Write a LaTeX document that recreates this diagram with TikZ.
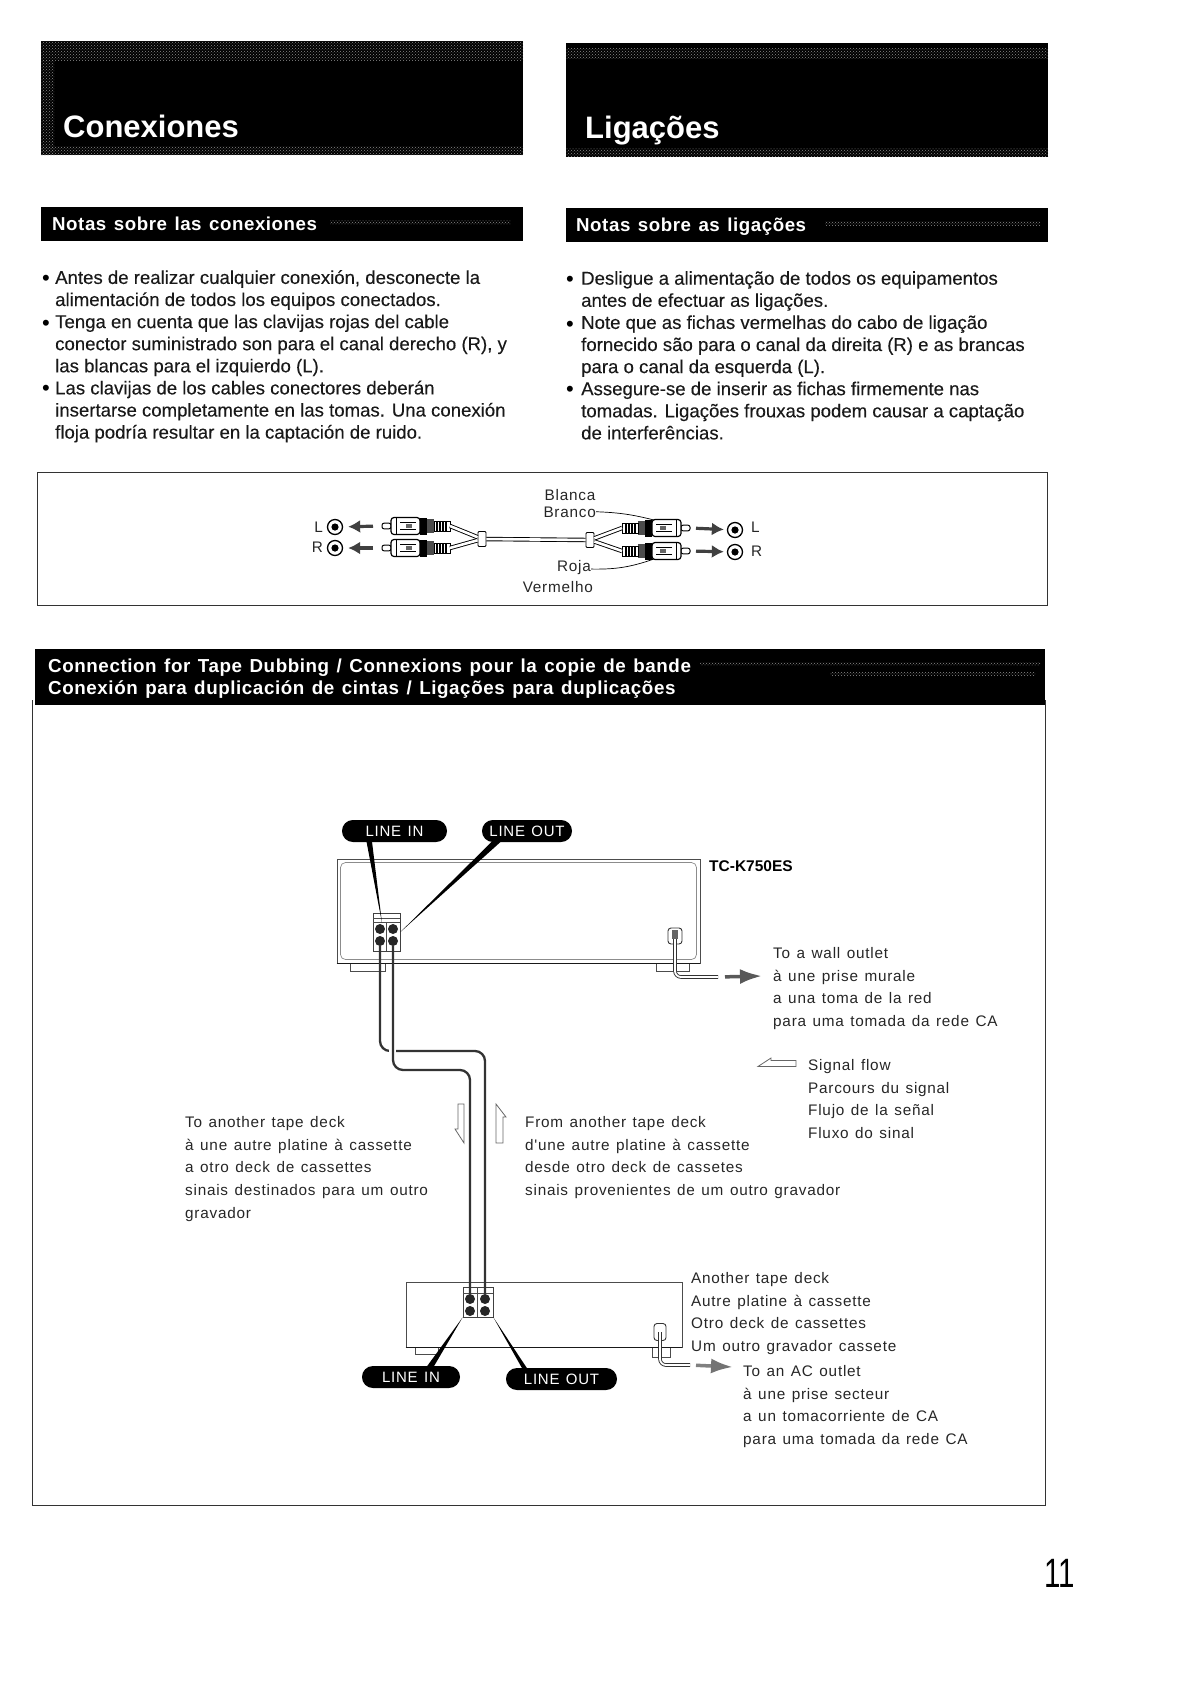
\documentclass[tikz,border=0pt]{standalone}
\usepackage{fontspec}
\setmainfont{Liberation Sans}
\newfontfamily\labelfont[LetterSpace=5,WordSpace=1.3]{Liberation Sans}
\newfontfamily\barfont[LetterSpace=3,WordSpace=1.3]{Liberation Sans}
\newfontfamily\notefont[FakeBold=0.2]{Liberation Sans}
\usetikzlibrary{arrows.meta,patterns}

\tikzset{
  rcaplug/.pic={
    \draw[fill=white, line width=1, rounded corners=2] (0,-2.8) -- (9,-2.8) -- (9,2.8) -- (0,2.8) -- cycle;
    \draw[fill=white, line width=1.2, rounded corners=3] (9,-8.5) -- (38,-8.5) -- (38,8.5) -- (9,8.5) -- cycle;
    \draw[line width=.9] (14,-8.5) -- (14,8.5) (18,-3.5) -- (34,-3.5) (18,3.5) -- (34,3.5);
    \fill[black!60] (24,-2) rectangle (30,2);
    \fill[black] (38,-8.5) rectangle (45,8.5);
    \fill[black!70] (45,-7) rectangle (52,7);
    \draw[fill=white, line width=.9] (52,-5) rectangle (68,5);
    \draw[line width=1.3] (55,-5) -- (55,5) (58,-5) -- (58,5) (61,-5) -- (61,5) (64,-5) -- (64,5);
    \coordinate (-tip) at (0,0);
    \coordinate (-tail) at (68,0);
    \coordinate (-top) at (36,-8);
    \coordinate (-low) at (36,8);
  }
}

\begin{document}
\begin{tikzpicture}[x=1pt, y=-1pt,
    titlebar/.style={rectangle, fill=black, inner sep=0pt, minimum width=482pt, minimum height=114pt},
    subbar/.style={rectangle, fill=black, inner sep=0pt, minimum width=482pt, minimum height=34pt},
    noise/.style={pattern=crosshatch dots, pattern color=black!45},
    titletext/.style={anchor=base west, inner sep=0pt, text=white, font=\bfseries\fontsize{31}{31}\selectfont},
    subtext/.style={anchor=base west, inner sep=0pt, text=white, font=\barfont\bfseries\fontsize{18.7}{22}\selectfont},
    dubtext/.style={anchor=base west, inner sep=0pt, text=white, font=\barfont\bfseries\fontsize{18.8}{22}\selectfont},
    notes/.style={anchor=north west, inner sep=0pt, align=left, text=black!90, font=\notefont\fontsize{18.6}{22.1}\selectfont},
    bullet/.style={inner sep=0pt, font=\fontsize{22}{22}\selectfont},
    lbl/.style={anchor=north west, inner sep=0pt, align=left, text=black!85, font=\labelfont\fontsize{15.3}{22.7}\selectfont},
    jack/.style={circle, draw, fill=white, line width=1.3pt, minimum size=15pt, inner sep=0pt,
      path picture={\fill[black] (path picture bounding box.center) circle (3.6);}},
    socket/.style={circle, fill=black!85, minimum size=10pt, inner sep=0pt},
    collar/.style={rectangle, draw, fill=white, rounded corners=1pt, line width=.9pt, minimum width=8pt, minimum height=15pt, inner sep=0pt},
    pill/.style={rectangle, fill=black, rounded corners=10.9pt, minimum height=22pt, inner sep=0pt, text=white, font=\labelfont\fontsize{15}{15}\selectfont},
    foot/.style={rectangle, draw=black!70, fill=white, line width=.8pt, inner sep=0pt},
    panel/.style={rectangle, draw=black!75, fill=white, line width=.8pt, inner sep=0pt},
    acplug/.style={rectangle, draw=black!80, fill=white, rounded corners=3pt, line width=.9pt, inner sep=0pt},
    pluginner/.style={rectangle, fill=black!60, inner sep=0pt, minimum width=6pt, minimum height=9pt},
    plugwire/.style={draw=black, line width=.9pt, double=white, double distance=2.6pt},
    rcawire/.style={draw=black!80, line width=2.3pt, rounded corners=10pt, line cap=round},
    cordwire/.style={draw=black!80, line width=.9pt, double=white, double distance=1.8pt, rounded corners=6pt},
    callout/.style={draw=black, line width=.7pt},
    inarrow/.style={draw=black!75, line width=3.2pt, -{Latex[length=12pt, width=13pt, black!75]}},
    acarrow/.style={draw=black!65, line width=3.5pt, -{Latex[length=22pt, width=15pt, black!65]}},
    flowline/.style={draw=black!60, line width=.8pt, fill=white}]

    \useasboundingbox (0,0) rectangle (1192,1682);

    % Titoli
    \node[titlebar] (conBar) at (282,98) {};
    \node[titlebar] (ligBar) at (807,99.5) {};
    \fill[noise] (41,41) rectangle (523,60);
    \fill[noise] (41,60) rectangle (54,155);
    \fill[noise] (41,146) rectangle (523,155);
    \fill[noise] (566,48) rectangle (1048,58);
    \fill[noise] (566,148) rectangle (1048,156);
    \node[titletext] (conTitle) at (63,137) {Conexiones};
    \node[titletext] (ligTitle) at (585,138) {Ligações};

    \node[subbar] (conSub) at (282,224) {};
    \node[subbar] (ligSub) at (807,225) {};
    \fill[noise] (330,220) rectangle (510,224);
    \fill[noise] (825,221) rectangle (1040,225);
    \node[subtext] (conSubText) at (52,230) {Notas sobre las conexiones};
    \node[subtext] (ligSubText) at (576,231) {Notas sobre as ligações};

    % Testo delle note
    \node[notes] (conNotes) at (55,270) {Antes de realizar cualquier conexión, desconecte la\\alimentación de todos los equipos conectados.\\Tenga en cuenta que las clavijas rojas del cable\\conector suministrado son para el canal derecho (R), y\\las blancas para el izquierdo (L).\\Las clavijas de los cables conectores deberán\\insertarse completamente en las tomas. Una conexión\\floja podría resultar en la captación de ruido.};
    \node[notes] (ligNotes) at (581,271) {Desligue a alimentação de todos os equipamentos\\antes de efectuar as ligações.\\Note que as fichas vermelhas do cabo de ligação\\fornecido são para o canal da direita (R) e as brancas\\para o canal da esquerda (L).\\Assegure-se de inserir as fichas firmemente nas\\tomadas. Ligações frouxas podem causar a captação\\de interferências.};
    \node[bullet] (conB1) at (46,280) {•};
    \node[bullet] (conB2) at (46,325) {•};
    \node[bullet] (conB3) at (46,390) {•};
    \node[bullet] (ligB1) at (570,281) {•};
    \node[bullet] (ligB2) at (570,326) {•};
    \node[bullet] (ligB3) at (570,391) {•};

    % Riquadro del cavo
    \draw[draw=black!80, line width=.9pt] (37,472) rectangle (1047,605);
    \node[jack] (jackL) at (335,527) {};
    \node[jack] (jackR) at (335,548) {};
    \node[jack] (jackLo) at (735,530) {};
    \node[jack] (jackRo) at (735,552) {};
    \pic (plugL) at (382,526) {rcaplug};
    \pic (plugR) at (382,548) {rcaplug};
    \pic[xscale=-1] (plugLo) at (690,528) {rcaplug};
    \pic[xscale=-1] (plugRo) at (690,551) {rcaplug};
    \node[collar] (yLeft) at (482,539) {};
    \node[collar] (yRight) at (590,540) {};
    \draw[plugwire] (yLeft) -- (yRight);
    \draw[plugwire] (plugL-tail) -- (yLeft);
    \draw[plugwire] (plugR-tail) -- (yLeft);
    \draw[plugwire] (plugLo-tail) -- (yRight);
    \draw[plugwire] (plugRo-tail) -- (yRight);
    \draw[inarrow, shorten <=9pt, shorten >=5pt] (plugL-tip) -- (jackL);
    \draw[inarrow, shorten <=9pt, shorten >=5pt] (plugR-tip) -- (jackR);
    \draw[inarrow, shorten <=6pt, shorten >=3pt] (plugLo-tip) -- (jackLo);
    \draw[inarrow, shorten <=6pt, shorten >=3pt] (plugRo-tip) -- (jackRo);
    \node[lbl, anchor=east] (chL) at (323,527) {L};
    \node[lbl, anchor=east] (chR) at (323,547) {R};
    \node[lbl, anchor=west] (chLo) at (751,527) {L};
    \node[lbl, anchor=west] (chRo) at (751,551) {R};
    \node[lbl, anchor=center] (blanca) at (570,495) {Blanca};
    \node[lbl, anchor=east] (branco) at (596,512) {Branco};
    \node[lbl, anchor=east] (roja) at (591,568) {Roja};
    \node[lbl, anchor=east] (vermelho) at (593,587) {Vermelho};
    \draw[callout] (branco) to[bend left=6] (plugLo-top);
    \draw[callout] (roja) to[bend right=10] (plugRo-low);

    % Sezione duplicazione
    \draw[draw=black!80, line width=.9pt] (32,700) -- (32,1505) -- (1045,1505) -- (1045,700);
    \node[rectangle, fill=black, inner sep=0pt, minimum width=1010pt, minimum height=56pt] (dubBar) at (540,676.5) {};
    \fill[noise] (700,662) rectangle (1040,665);
    \fill[noise] (830,672) rectangle (1035,675);
    \node[dubtext] (dubLine1) at (48,672) {Connection for Tape Dubbing / Connexions pour la copie de bande};
    \node[dubtext] (dubLine2) at (48,694) {Conexión para duplicación de cintas / Ligações para duplicações};

    % Deck superiore
    \node[foot, minimum width=35pt, minimum height=12pt] (footA1) at (367.5,965) {};
    \node[foot, minimum width=33pt, minimum height=12pt] (footA2) at (672.5,965) {};
    \node[rectangle, draw=black!70, fill=white, line width=.9pt, minimum width=363pt, minimum height=104pt, inner sep=0pt] (deckA) at (518.5,911) {};
    \draw[draw=black!90, line width=1.6pt] (deckA.south west) -- (deckA.south east);
    \node[rectangle, draw=black!45, rounded corners=5pt, line width=.7pt, minimum width=356pt, minimum height=97pt, inner sep=0pt] (deckAin) at (518.5,911) {};
    \node[panel, minimum width=27pt, minimum height=38pt] (panelA) at (386.5,932) {};
    \draw[draw=black!70, line width=.7pt] (373,918) -- (400,918) (373,922) -- (400,922) (386,922) -- (386,951);
    \node[socket] (jackA1) at (380,929) {};
    \node[socket] (jackA2) at (393,929) {};
    \node[socket] (jackA3) at (380,941) {};
    \node[socket] (jackA4) at (393,941) {};
    \node[acplug, minimum width=14pt, minimum height=16pt] (plugA) at (675,936) {};
    \coordinate (cordEndA) at (718,977);
    \coordinate (wallA) at (762,976);
    \draw[cordwire] (plugA.center) |- (cordEndA);
    \draw[acarrow, shorten <=7pt] (cordEndA) -- (wallA);
    \node[pluginner] (plugAin) at (675,934) {};

    \node[pill, minimum width=105pt] (pillInA) at (394.5,831) {LINE IN};
    \node[pill, minimum width=90pt] (pillOutA) at (527,831) {LINE OUT};
    \coordinate (leadInA) at (369,840);
    \coordinate (leadOutA) at (497,840);
    \coordinate (leadInAend) at (382,923);
    \fill (leadInA) ++(-2.8,0) -- ++(5.6,0) -- (leadInAend) -- cycle;
    \fill (leadOutA) ++(-3.5,0) -- ++(7,2) -- (panelA.east) -- cycle;

    % Deck inferiore
    \node[foot, minimum width=23pt, minimum height=8pt] (footB1) at (426.5,1350) {};
    \node[foot, minimum width=18pt, minimum height=12pt] (footB2) at (661,1351) {};
    \node[rectangle, draw=black!70, fill=white, line width=.9pt, minimum width=276pt, minimum height=65pt, inner sep=0pt] (deckB) at (544,1314.5) {};
    \draw[draw=black!90, line width=1.4pt] (deckB.south west) -- (deckB.south east);
    \node[panel, minimum width=30pt, minimum height=30pt] (panelB) at (478,1302) {};
    \draw[draw=black!70, line width=.7pt] (463,1293) -- (493,1293) (477.5,1287) -- (477.5,1317);
    \node[socket] (jackB1) at (470,1299) {};
    \node[socket] (jackB2) at (485,1299) {};
    \node[socket] (jackB3) at (470,1311) {};
    \node[socket] (jackB4) at (485,1311) {};
    \node[acplug, minimum width=12pt, minimum height=17pt] (plugB) at (660,1332) {};
    \coordinate (cordEndB) at (690,1365);
    \coordinate (wallB) at (733,1367);
    \draw[cordwire] (plugB.center) |- (cordEndB);
    \draw[acarrow, draw=black!50, -{Latex[length=22pt, width=15pt, black!55]}, shorten <=6pt] (cordEndB) -- (wallB);
    \node[pill, minimum width=98pt] (pillInB) at (411,1377) {LINE IN};
    \node[pill, minimum width=111pt] (pillOutB) at (561.5,1379) {LINE OUT};
    \coordinate (leadInB) at (430,1367);
    \coordinate (leadOutB) at (525,1369);
    \fill (leadInB) ++(-3.5,0) -- ++(7,0) -- (panelB.south west) -- cycle;
    \fill (leadOutB) ++(-2.5,0) -- ++(5,0) -- (panelB.south east) -- cycle;

    % Cavi
    \coordinate (turnOne) at (430,1051);
    \coordinate (turnTwo) at (430,1070);
    \draw[rcawire] (jackA3) |- (turnOne) -| (jackB2);
    \draw[draw=white, line width=7pt] (392,1040) -- (392,1060);
    \draw[rcawire] (jackA4) |- (turnTwo) -| (jackB1);

    % Frecce del segnale
    \draw[flowline] (458,1104) -- (464,1104) -- (464,1143) -- (455,1129) -- (458,1129) -- cycle;
    \draw[flowline] (496,1143) -- (503,1143) -- (503,1117) -- (506,1117) -- (496,1104) -- cycle;
    \draw[flowline] (758,1066.5) -- (771,1058) -- (771,1060.5) -- (796,1060.5) -- (796,1066.5) -- cycle;

    % Etichette
    \node[inner sep=0pt, anchor=west, text=black, font=\bfseries\fontsize{15.5}{16}\selectfont] (modelA) at (709,866) {TC-K750ES};
    \node[lbl] (toWall) at (773,947) {To a wall outlet\\à une prise murale\\a una toma de la red\\para uma tomada da rede CA};
    \node[lbl] (signalFlow) at (808,1059) {Signal flow\\Parcours du signal\\Flujo de la señal\\Fluxo do sinal};
    \node[lbl] (toDeck) at (185,1116) {To another tape deck\\à une autre platine à cassette\\a otro deck de cassettes\\sinais destinados para um outro\\gravador};
    \node[lbl] (fromDeck) at (525,1116) {From another tape deck\\d'une autre platine à cassette\\desde otro deck de cassetes\\sinais provenientes de um outro gravador};
    \node[lbl] (deckBName) at (691,1272) {Another tape deck\\Autre platine à cassette\\Otro deck de cassettes\\Um outro gravador cassete};
    \node[lbl] (toOutlet) at (743,1365) {To an AC outlet\\à une prise secteur\\a un tomacorriente de CA\\para uma tomada da rede CA};
    \node[inner sep=0pt, font=\fontsize{41}{41}\selectfont] (pageNum) at (1060,1573) {\scalebox{.72}[1]{11}};
\end{tikzpicture}
\end{document}
